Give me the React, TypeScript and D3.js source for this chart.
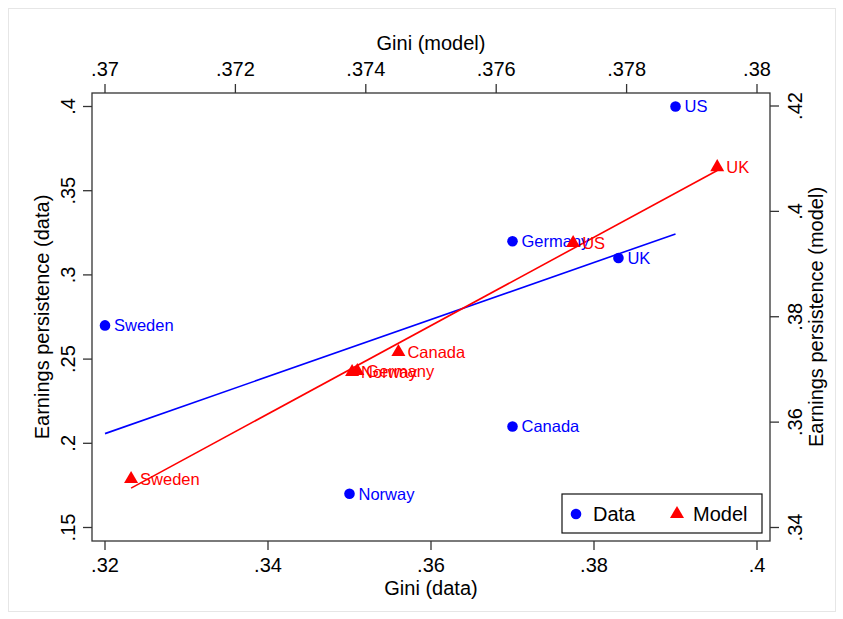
import React from "react";
import * as d3 from "d3";

const countries = ["US", "Germany", "UK", "Sweden", "Canada", "Norway"];
const giniData = [0.39, 0.37, 0.383, 0.32, 0.37, 0.35];
const persistData = [0.4, 0.32, 0.31, 0.27, 0.21, 0.17];
const modelCountries = ["UK", "US", "Canada", "Germany", "Norway", "Sweden"];
const giniModel = [0.37939, 0.37718, 0.3745, 0.37387, 0.37379, 0.3704];
const persistModel = [0.4084, 0.394, 0.3733, 0.3697, 0.3695, 0.3492];

const xDataTicks = [0.32, 0.34, 0.36, 0.38, 0.4];
const xModelTicks = [0.37, 0.372, 0.374, 0.376, 0.378, 0.38];
const yDataTicks = [0.15, 0.2, 0.25, 0.3, 0.35, 0.4];
const yModelTicks = [0.34, 0.36, 0.38, 0.4, 0.42];

const fmt = (v: number) => {
  const s = d3.format("")(+v.toFixed(4));
  return s.replace(/^0/, "");
};

function fit(xs: number[], ys: number[]) {
  const mx = d3.mean(xs)!;
  const my = d3.mean(ys)!;
  let sxy = 0, sxx = 0;
  xs.forEach((x, i) => { sxy += (x - mx) * (ys[i] - my); sxx += (x - mx) * (x - mx); });
  const b = sxy / sxx;
  const a = my - b * mx;
  const [x0, x1] = d3.extent(xs) as [number, number];
  return [[x0, a + b * x0], [x1, a + b * x1]];
}

export default function App() {
  const W = 843, H = 619;
  const L = 92, R = 770, T = 93, B = 541;
  const font = "'Liberation Sans', Arial, Helvetica, sans-serif";
  const BLUE = "#0000ff", RED = "#ff0000";

  const xD = d3.scaleLinear().domain([0.32, 0.4]).range([105, 757]);
  const xM = d3.scaleLinear().domain([0.37, 0.38]).range([105, 757]);
  const yD = d3.scaleLinear().domain([0.15, 0.4]).range([527.5, 106.5]);
  const yM = d3.scaleLinear().domain([0.34, 0.42]).range([527.5, 106]);

  const fD = fit(giniData, persistData);
  const fM = fit(giniModel, persistModel);
  const line = d3.line();
  const tri = d3.symbol().type(d3.symbolTriangle).size(85);

  const tickFs = 20;
  return (
    <svg width={W} height={H} style={{ position: "absolute", left: 0, top: 0, background: "#fff" }} fontFamily={font}>
      <rect x={8.5} y={8.5} width={827} height={603} fill="#fff" stroke="#e6e6e6" />
      {/* fit lines */}
      <path d={line(fD.map(p => [xD(p[0]), yD(p[1])]) as any)!} stroke={BLUE} strokeWidth={1.6} fill="none" />
      <path d={line(fM.map(p => [xM(p[0]), yM(p[1])]) as any)!} stroke={RED} strokeWidth={1.6} fill="none" />
      {/* data points */}
      {countries.map((c, i) => (
        <g key={"d" + c}>
          <circle cx={xD(giniData[i])} cy={yD(persistData[i])} r={5.3} fill={BLUE} />
          <text x={xD(giniData[i]) + 9} y={yD(persistData[i])} dy="0.36em" fontSize={16.5} fill={BLUE}>{c}</text>
        </g>
      ))}
      {modelCountries.map((c, i) => (
        <g key={"m" + c}>
          <path d={tri()!} transform={`translate(${xM(giniModel[i])},${yM(persistModel[i])})`} fill={RED} />
          <text x={xM(giniModel[i]) + 9} y={yM(persistModel[i])} dy="0.36em" fontSize={16.5} fill={RED}>{c}</text>
        </g>
      ))}
      {/* frame */}
      <rect x={L} y={T} width={R - L} height={B - T} fill="none" stroke="#333" strokeWidth={1.3} />
      {/* bottom axis */}
      {xDataTicks.map(t => (
        <g key={"xb" + t}>
          <line x1={xD(t)} x2={xD(t)} y1={B} y2={B + 9} stroke="#333" strokeWidth={1.3} />
          <text x={xD(t)} y={B + 31} textAnchor="middle" fontSize={tickFs}>{fmt(t)}</text>
        </g>
      ))}
      <text x={(L + R) / 2} y={595} textAnchor="middle" fontSize={tickFs}>Gini (data)</text>
      {/* top axis */}
      {xModelTicks.map(t => (
        <g key={"xt" + t}>
          <line x1={xM(t)} x2={xM(t)} y1={T} y2={T - 9} stroke="#333" strokeWidth={1.3} />
          <text x={xM(t)} y={T - 17} textAnchor="middle" fontSize={tickFs}>{fmt(t)}</text>
        </g>
      ))}
      <text x={(L + R) / 2} y={50} textAnchor="middle" fontSize={tickFs}>Gini (model)</text>
      {/* left axis */}
      {yDataTicks.map(t => (
        <g key={"yl" + t}>
          <line x1={L} x2={L - 9} y1={yD(t)} y2={yD(t)} stroke="#333" strokeWidth={1.3} />
          <text transform={`translate(${L - 17},${yD(t)}) rotate(-90)`} textAnchor="middle" fontSize={tickFs}>{fmt(t)}</text>
        </g>
      ))}
      <text transform={`translate(49,${(T + B) / 2}) rotate(-90)`} textAnchor="middle" fontSize={tickFs}>Earnings persistence (data)</text>
      {/* right axis */}
      {yModelTicks.map(t => (
        <g key={"yr" + t}>
          <line x1={R} x2={R + 9} y1={yM(t)} y2={yM(t)} stroke="#333" strokeWidth={1.3} />
          <text transform={`translate(${R + 32},${yM(t)}) rotate(-90)`} textAnchor="middle" fontSize={tickFs}>{fmt(t)}</text>
        </g>
      ))}
      <text transform={`translate(823,${(T + B) / 2}) rotate(-90)`} textAnchor="middle" fontSize={tickFs}>Earnings persistence (model)</text>
      {/* legend */}
      <rect x={562} y={494} width={200} height={39} fill="#fff" stroke="#111" strokeWidth={1.2} />
      <circle cx={576} cy={514} r={5.3} fill={BLUE} />
      <text x={593} y={514} dy="0.36em" fontSize={20}>Data</text>
      <path d={tri()!} transform="translate(677,514)" fill={RED} />
      <text x={693} y={514} dy="0.36em" fontSize={20}>Model</text>
    </svg>
  );
}
